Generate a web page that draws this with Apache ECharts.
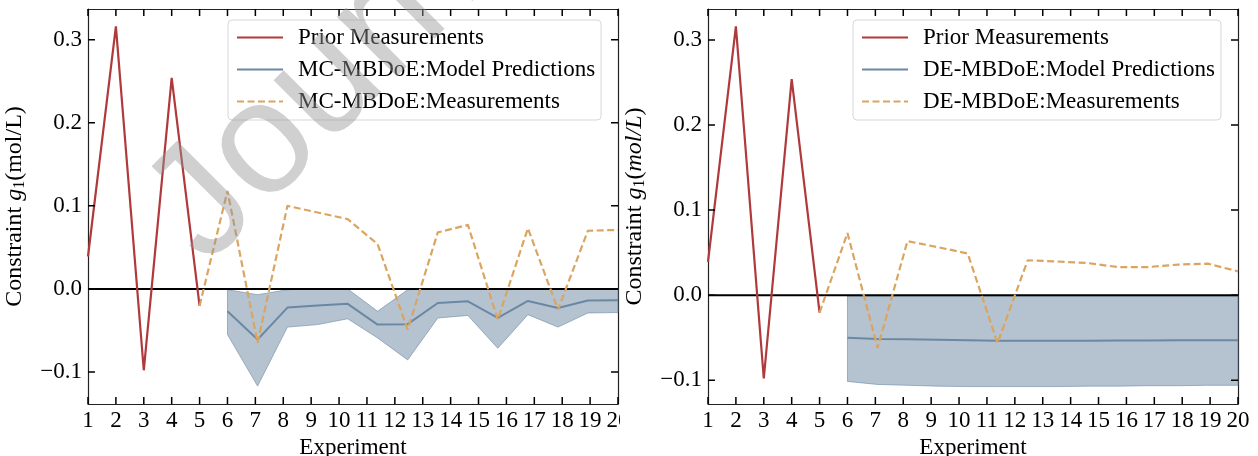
<!DOCTYPE html>
<html>
<head>
<meta charset="utf-8">
<script src="https://cdn.jsdelivr.net/npm/echarts@6/dist/echarts.min.js"></script>
<style>
  html, body { margin: 0; padding: 0; background: #fff; }
  #wrap { position: relative; width: 1258px; height: 456px; overflow: hidden; }
  #left { position: absolute; left: 0; top: 0; width: 620px; height: 456px; }
  #right { position: absolute; left: 620px; top: 0; width: 638px; height: 456px; }
</style>
</head>
<body>
<div id="wrap">
  <div id="left"></div>
  <div id="right"></div>
</div>
<script>
// experiments 1-5 (prior)
const xPrior = [1, 2, 3, 4, 5];
const prior = [0.039, 0.316, -0.098, 0.254, -0.0205];

// new experiments (measurement line starts at the last prior point)
const xMeas = [5, 6, 7.08, 8.15, 9.23, 10.31, 11.38, 12.46, 13.54, 14.62, 15.69, 16.77, 17.85, 18.92, 20];
const xModel = [6, 7.08, 8.15, 9.23, 10.31, 11.38, 12.46, 13.54, 14.62, 15.69, 16.77, 17.85, 18.92, 20];

// MC-MBDoE (left)
const mcMeas = [-0.0205, 0.118, -0.065, 0.100, 0.092, 0.084, 0.054, -0.049, 0.068, 0.077, -0.037, 0.073, -0.025, 0.070, 0.071];
const mcModel = [-0.027, -0.061, -0.0225, -0.020, -0.018, -0.043, -0.0425, -0.017, -0.015, -0.035, -0.0145, -0.023, -0.014, -0.0137];
const mcUpper = [-0.001, -0.007, -0.001, 0.0, 0.0, -0.027, -0.001, 0.0, 0.0, 0.0, 0.0, 0.0, 0.0, 0.0];
const mcLower = [-0.055, -0.117, -0.046, -0.043, -0.036, -0.059, -0.0855, -0.035, -0.032, -0.0715, -0.031, -0.046, -0.029, -0.0285];

// DE-MBDoE (right)
const deMeas = [-0.0205, 0.073, -0.062, 0.0635, 0.0565, 0.049, -0.0565, 0.041, 0.0396, 0.0377, 0.033, 0.033, 0.036, 0.037, 0.028];
const deModel = [-0.050, -0.0515, -0.052, -0.0525, -0.053, -0.0535, -0.0535, -0.0535, -0.0535, -0.0533, -0.0532, -0.053, -0.053, -0.053];
const deUpper = [-0.001, -0.001, -0.001, -0.001, -0.001, -0.001, -0.001, -0.001, -0.001, -0.001, -0.001, -0.001, -0.001, -0.001];
const deLower = [-0.1015, -0.105, -0.106, -0.107, -0.1075, -0.1075, -0.1075, -0.1075, -0.107, -0.107, -0.1065, -0.1065, -0.106, -0.106];

// tick positions
const xTicks = [1, 2, 3, 4, 5, 6, 7, 8, 9, 10, 11, 12, 13, 14, 15, 16, 17, 18, 19, 20];
const yTicks = [-0.1, 0, 0.1, 0.2, 0.3];

const FONT = 'Liberation Serif';
const RED = '#b0393b';
const BLUE = '#6b88a3';
const ORANGE = '#d9a560';
const AXIS = '#222';

const zip = (xs, ys) => xs.map((x, i) => [x, ys[i]]);
const fmtY = v => (v < 0 ? '\u2212' : '') + Math.abs(v).toFixed(1);

// inward tick marks on all four sides as short segments in data units
function tickSegments(cfg) {
  const tkY = (cfg.yMax - cfg.yMin) * 7 / 395;
  const tkX = 19 * 7 / 530;
  const d = [];
  xTicks.forEach(x => {
    d.push([x, cfg.yMin], [x, cfg.yMin + tkY], [x, '-']);
    d.push([x, cfg.yMax], [x, cfg.yMax - tkY], [x, '-']);
  });
  yTicks.forEach(y => {
    d.push([1, y], [1 + tkX, y], [1, '-']);
    d.push([20, y], [20 - tkX, y], [20, '-']);
  });
  return d;
}

function makeOption(cfg) {
  const lineStyleAxis = { show: true, onZero: false, lineStyle: { color: AXIS, width: 1.2 } };
  return {
    animation: false,
    grid: { left: 88, right: cfg.gridRight, top: 9, bottom: 52, outerBoundsMode: 'none' },
    legend: {
      data: [cfg.names[0], cfg.names[1], cfg.names[2]],
      orient: 'vertical',
      left: cfg.legendLeft, top: 20,
      itemWidth: 46, itemHeight: 14, itemGap: 9,
      padding: [6, 6, 7, 8],
      backgroundColor: 'rgba(255,255,255,0.8)',
      borderColor: '#d6d6d6', borderWidth: 1, borderRadius: 4,
      selectedMode: false,
      itemStyle: { opacity: 0 },
      textStyle: { fontFamily: FONT, fontSize: 23, color: '#000', padding: [0, 0, 0, 10] }
    },
    xAxis: [{
      type: 'value', min: 1, max: 20, interval: 1,
      axisLine: lineStyleAxis, splitLine: { show: false }, axisTick: { show: false },
      axisLabel: { fontFamily: FONT, fontSize: 23, color: '#000', margin: 5 },
      name: 'Experiment', nameLocation: 'middle', nameGap: 28,
      nameTextStyle: { fontFamily: FONT, fontSize: 23, color: '#000' }
    }, {
      type: 'value', min: 1, max: 20, interval: 1, position: 'top',
      axisLine: lineStyleAxis, splitLine: { show: false }, axisTick: { show: false },
      axisLabel: { show: false }
    }],
    yAxis: [{
      type: 'value', min: cfg.yMin, max: cfg.yMax,
      axisLine: lineStyleAxis, axisTick: { show: false },
      axisLabel: { customValues: yTicks, formatter: fmtY, fontFamily: FONT, fontSize: 23, color: '#000', margin: 6 },
      splitLine: { show: false },
      name: cfg.yName, nameLocation: 'middle', nameGap: 60, nameRotate: 90,
      nameTextStyle: {
        fontFamily: FONT, fontSize: 24, color: '#000',
        rich: {
          t: { fontFamily: FONT, fontSize: 24, color: '#000', lineHeight: 27 },
          i: { fontFamily: FONT, fontSize: 24, fontStyle: 'italic', color: '#000', lineHeight: 27 },
          s: { fontFamily: FONT, fontSize: 16, color: '#000', lineHeight: 27, verticalAlign: 'bottom' }
        }
      }
    }, {
      type: 'value', min: cfg.yMin, max: cfg.yMax, position: 'right',
      axisLine: lineStyleAxis, axisTick: { show: false },
      axisLabel: { show: false }, splitLine: { show: false }
    }],
    series: [{
      type: 'custom', silent: true, z: 1,
      data: [[6, 0]],
      renderItem: (params, api) => {
        const pts = [];
        for (let i = 0; i < xModel.length; i++) pts.push(api.coord([xModel[i], cfg.upper[i]]));
        for (let i = xModel.length - 1; i >= 0; i--) pts.push(api.coord([xModel[i], cfg.lower[i]]));
        return {
          type: 'polygon', shape: { points: pts },
          style: { fill: 'rgba(107,136,163,0.5)', stroke: 'rgba(107,136,163,0.6)', lineWidth: 1 }
        };
      }
    }, {
      name: cfg.names[1], type: 'line', symbol: 'none', z: 3,
      data: zip(xModel, cfg.model),
      lineStyle: { color: BLUE, width: 2 }, itemStyle: { color: BLUE }
    }, {
      type: 'line', symbol: 'none', z: 4, silent: true,
      data: [[1, 0], [20, 0]],
      lineStyle: { color: '#000', width: 2 }
    }, {
      name: cfg.names[0], type: 'line', symbol: 'none', z: 5,
      data: zip(xPrior, prior),
      lineStyle: { color: RED, width: 2.2 }, itemStyle: { color: RED }
    }, {
      name: cfg.names[2], type: 'line', symbol: 'none', z: 5,
      data: zip(xMeas, cfg.meas),
      lineStyle: { color: ORANGE, width: 2.2, type: [7, 3.5] }, itemStyle: { color: ORANGE }
    }, {
      type: 'line', symbol: 'none', z: 6, silent: true, clip: false, connectNulls: false,
      data: tickSegments(cfg),
      lineStyle: { color: '#000', width: 1.5 }
    }],
    graphic: cfg.graphic || []
  };
}

const leftCfg = {
  gridRight: 2, legendLeft: 228, yMin: -0.1386, yMax: 0.337,
  names: ['Prior Measurements', 'MC-MBDoE:Model Predictions', 'MC-MBDoE:Measurements'],
  yName: '{t|Constraint }{i|g}{s|1}{t|(mol/L)}',
  meas: mcMeas, model: mcModel, upper: mcUpper, lower: mcLower,
  graphic: [{
    type: 'text', x: 232, y: 292, rotation: Math.PI / 4, z: 100, silent: true,
    style: {
      text: 'Journal Pre-proof', fontFamily: 'Liberation Sans', fontSize: 160,
      fill: 'rgba(150,150,150,0.45)', textVerticalAlign: 'bottom'
    }
  }]
};
const rightCfg = {
  gridRight: 20, legendLeft: 233, yMin: -0.128, yMax: 0.3365,
  names: ['Prior Measurements', 'DE-MBDoE:Model Predictions', 'DE-MBDoE:Measurements'],
  yName: '{t|Constraint }{i|g}{s|1}{t|(}{i|mol/L}{t|)}',
  meas: deMeas, model: deModel, upper: deUpper, lower: deLower
};

const leftChart = echarts.init(document.getElementById('left'));
leftChart.setOption(makeOption(leftCfg));
const rightChart = echarts.init(document.getElementById('right'));
rightChart.setOption(makeOption(rightCfg));
</script>
</body>
</html>
